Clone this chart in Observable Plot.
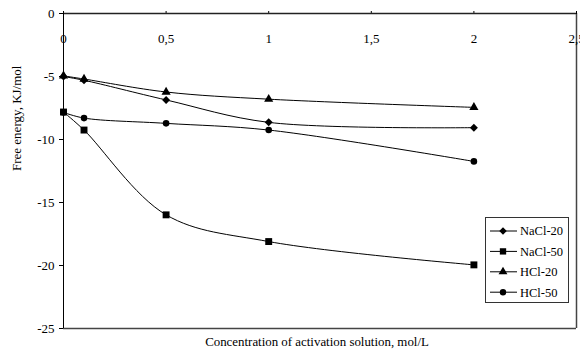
<!DOCTYPE html>
<html><head><meta charset="utf-8">
<script src="https://cdn.jsdelivr.net/npm/d3@7"></script>
<script src="https://cdn.jsdelivr.net/npm/@observablehq/plot@0.6"></script>
<style>body{margin:0;background:#fff} #chart svg, #chart svg text{font-family:'Liberation Serif','Times New Roman',serif !important;fill-opacity:1}</style>
</head><body><div id="chart"></div>
<script>
const concentrations = [0, 0.1, 0.5, 1, 2];
const nacl20 = [-5.0, -5.3, -6.86, -8.64, -9.06];
const nacl50 = [-7.82, -9.25, -15.98, -18.1, -19.95];
const hcl20 = [-4.95, -5.2, -6.23, -6.8, -7.45];
const hcl50 = [-7.85, -8.3, -8.72, -9.25, -11.74];
const seriesNames = ["NaCl-20", "NaCl-50", "HCl-20", "HCl-50"];
const seriesSymbols = ["diamond2", "square", "triangle", "circle"];
const xTicks = [0, 0.5, 1, 1.5, 2, 2.5];
const xTickLabels = ["0", "0,5", "1", "1,5", "2", "2,5"];
const yTicks = [0, -5, -10, -15, -20, -25];
const xTitle = "Concentration of activation solution, mol/L";
const yTitle = "Free energy, KJ/mol";

const seriesValues = [nacl20, nacl50, hcl20, hcl50];
const rows = [];
seriesNames.forEach((s, i) => {
  concentrations.forEach((c, j) => rows.push({series: s, x: c, y: seriesValues[i][j]}));
});
const markerR = {"NaCl-20": 3.6, "NaCl-50": 3.9, "HCl-20": 3.4, "HCl-50": 3.3};

const plot = Plot.plot({
  width: 580, height: 354,
  marginLeft: 63, marginRight: 4, marginTop: 13, marginBottom: 26,
  style: "font-family: 'Liberation Serif', 'Times New Roman', serif; font-size: 13px; color: #000; background: #fff;",
  x: {domain: [0, 2.5]},
  y: {domain: [-25, 0]},
  symbol: {domain: seriesNames, range: seriesSymbols},
  marks: [
    Plot.ruleY([-25], {stroke: "#444", strokeWidth: 1.5}),
    Plot.ruleX([2.5], {stroke: "#444", strokeWidth: 1.5}),
    Plot.line(rows, {x: "x", y: "y", z: "series", curve: "catmull-rom", stroke: "#000", strokeWidth: 1}),
    ...seriesNames.map(s => Plot.dot(rows.filter(d => d.series === s), {x: "x", y: "y", symbol: "series", fill: "#000", stroke: "none", r: markerR[s]})),
    Plot.axisY({ticks: yTicks, tickSize: 4, tickPadding: 5, tickFormat: d => String(d), label: null, fontSize: 13, fill: "#000"}),
    Plot.axisX({anchor: "top", ticks: xTicks, tickSize: 3, tickFormat: () => "", label: null}),
    Plot.text(xTicks, {x: d => d, frameAnchor: "top", dy: 20, text: (d, i) => xTickLabels[i], fontSize: 13, fill: "#000"}),
    Plot.ruleY([0], {stroke: "#222", strokeWidth: 1.6}),
    Plot.ruleX([0], {stroke: "#000", strokeWidth: 1}),
    Plot.text([xTitle], {frameAnchor: "bottom", dx: -3, dy: 17, fontSize: 12.9, fill: "#000"}),
    Plot.text([yTitle], {frameAnchor: "left", dx: -47, rotate: -90, fontSize: 13, fill: "#000"})
  ]
});
document.getElementById("chart").appendChild(plot);

// Legend
const svg = d3.select(plot);
const lg = svg.append("g").attr("text-anchor", "start");
lg.append("rect").attr("x", 485.5).attr("y", 217.5).attr("width", 83).attr("height", 85)
  .attr("fill", "#fff").attr("stroke", "#333").attr("stroke-width", 1);
const symMap = {diamond2: d3.symbolDiamond2, square: d3.symbolSquare, triangle: d3.symbolTriangle, circle: d3.symbolCircle};
const legendSizes = [36, 40, 34, 32];
seriesNames.forEach((s, i) => {
  const y = 231 + i * 20.4;
  lg.append("line").attr("x1", 490).attr("x2", 517).attr("y1", y).attr("y2", y).attr("stroke", "#000");
  lg.append("path").attr("d", d3.symbol(symMap[seriesSymbols[i]], legendSizes[i])())
    .attr("transform", `translate(503,${y})`).attr("fill", "#000");
  lg.append("text").attr("x", 520).attr("y", y).attr("dy", "0.35em").attr("font-size", 12.5).attr("fill", "#000").text(s);
});
</script></body></html>
